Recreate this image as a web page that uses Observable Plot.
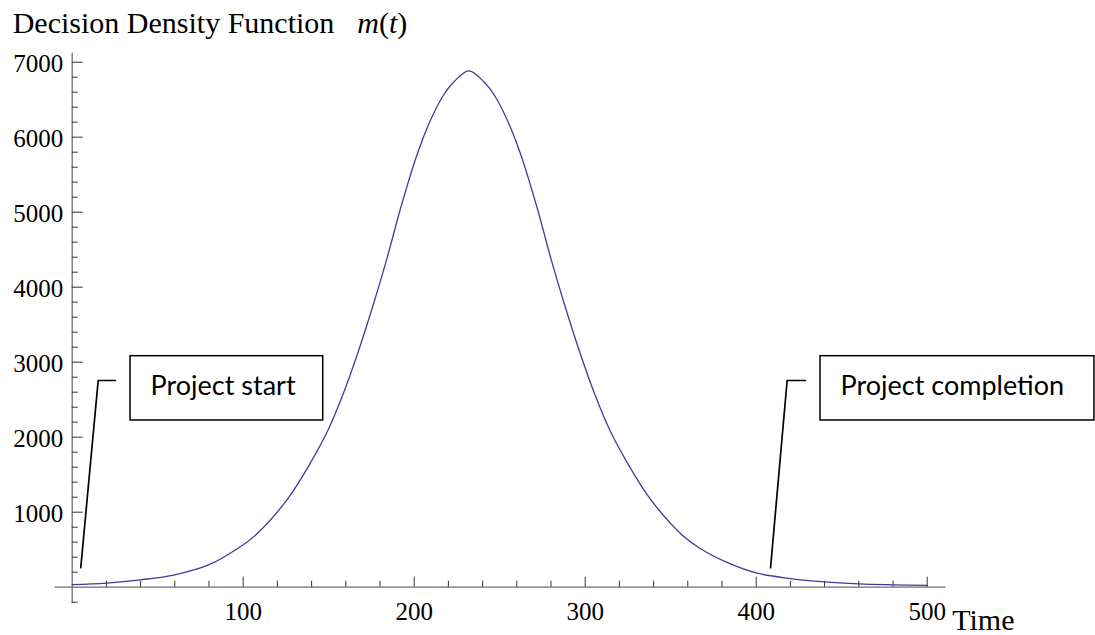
<!DOCTYPE html>
<html><head><meta charset="utf-8">
<script src="https://cdn.jsdelivr.net/npm/d3@7"></script>
<script src="https://cdn.jsdelivr.net/npm/@observablehq/plot@0.6"></script>
<style>
body{margin:0;background:#fff;}
#title{height:40px;font-family:"Liberation Serif",serif;font-size:30px;line-height:46px;padding-left:12.7px;white-space:nowrap;color:#000;}
#chart svg{overflow:visible;display:block;}
</style></head><body>
<div id="title">Decision Density Function<span style="margin-left:23px"><i>m</i>(<i>t</i>)</span></div>
<div id="chart"></div>
<script>
// curve readings (time, m(t))
const time    = [0, 20, 40, 60, 80, 97, 107.5, 126, 139, 149.5, 158.5, 167.5, 176.5, 184, 192.5, 201.5, 209, 217, 223, 232, 241, 247, 255, 262.5, 271.5, 280, 287.5, 296.5, 305.5, 314.5, 325, 338, 356.5, 367, 384, 400, 420, 440, 460, 480, 500];
const density = [35, 55, 98, 165, 300, 520, 700, 1178, 1645, 2089, 2578, 3156, 3800, 4378, 5089, 5756, 6200, 6556, 6733, 6885, 6733, 6556, 6200, 5756, 5089, 4378, 3800, 3156, 2578, 2089, 1645, 1178, 700, 520, 320, 190, 115, 70, 45, 32, 23];

const xMajorTicks = [100, 200, 300, 400, 500];
const xMinorTicks = [20, 40, 60, 80, 120, 140, 160, 180, 220, 240, 260, 280, 320, 340, 360, 380, 420, 440, 460, 480];
const yMajorTicks = [1000, 2000, 3000, 4000, 5000, 6000, 7000];
const yMinorTicks = [-200, 200, 400, 600, 800, 1200, 1400, 1600, 1800, 2200, 2400, 2600, 2800, 3200, 3400, 3600, 3800, 4200, 4400, 4600, 4800, 5200, 5400, 5600, 5800, 6200, 6400, 6600, 6800];

// annotations (data coordinates)
const noteLabels = ["Project start", "Project completion"];
const noteTextX  = [45.8, 449.3];
const noteTextY  = [2680, 2680];
const boxX1 = [34.1, 437.6];
const boxX2 = [146.8, 597.8];
const boxY1 = [2223, 2223];
const boxY2 = [3080, 3080];
const leaderStartX = [5.0, 15.2, 25.3];
const leaderEndX   = [408.4, 418.1, 428.8];
const leaderY      = [259, 2756, 2756];

const xAxisLabel = "Time";

const curveData = time.map((t, i) => ({t, m: density[i]}));
const boxes = noteLabels.map((label, i) => ({label, x1: boxX1[i], x2: boxX2[i], y1: boxY1[i], y2: boxY2[i], tx: noteTextX[i], ty: noteTextY[i]}));
const leaders = [
  ...leaderStartX.map((x, i) => ({g: 0, x, y: leaderY[i]})),
  ...leaderEndX.map((x, i) => ({g: 1, x, y: leaderY[i]}))
];

const axisColor = "#6e6e6e";
const tickColor = "#333";

const plot = Plot.plot({
  width: 1095,
  height: 595,
  marginTop: 12.7,
  marginLeft: 71.7,
  marginRight: 149.5,
  marginBottom: 48.3,
  x: {domain: [0, 511], axis: null},
  y: {domain: [0, 7120], axis: null},
  style: {fontFamily: "'Liberation Serif', serif", fontSize: "25px", color: "#000", background: "#fff", overflow: "visible"},
  marks: [
    Plot.ruleY([0], {x1: -10, x2: 511, stroke: axisColor, strokeWidth: 1.3}),
    Plot.ruleX([0], {y1: -217, y2: 7120, stroke: axisColor, strokeWidth: 1.3}),
    Plot.axisX(xMinorTicks, {anchor: "bottom", tickSize: -6, tickFormat: () => "", stroke: tickColor, label: null}),
    Plot.axisX(xMajorTicks, {anchor: "bottom", tickSize: -10, tickFormat: () => "", stroke: tickColor, label: null}),
    Plot.axisX(xMajorTicks, {anchor: "bottom", tickSize: 0, tickPadding: 15.5, tickFormat: "d", fontSize: 25, fill: "#000", label: null}),
    Plot.axisY(yMinorTicks, {anchor: "left", tickSize: -6, tickFormat: () => "", stroke: tickColor, label: null}),
    Plot.axisY(yMajorTicks, {anchor: "left", tickSize: -11, tickFormat: () => "", stroke: tickColor, label: null}),
    Plot.axisY(yMajorTicks, {anchor: "left", tickSize: 0, tickPadding: 9, tickFormat: "d", fontSize: 25, fill: "#000", dy: 2, label: null}),
    Plot.line(curveData, {x: "t", y: "m", stroke: "#3d3d99", strokeWidth: 1.3, curve: "catmull-rom"}),
    Plot.line(leaders, {x: "x", y: "y", z: "g", stroke: "#000", strokeWidth: 1.7}),
    Plot.rect(boxes, {x1: "x1", x2: "x2", y1: "y1", y2: "y2", fill: "#fff", stroke: "#000", strokeWidth: 1.5}),
    Plot.text(boxes, {x: "tx", y: "ty", text: "label", textAnchor: "start", fontFamily: "Lato", fontSize: 27, fill: "#000"}),
    Plot.text([xAxisLabel], {frameAnchor: "bottom-right", textAnchor: "start", dx: 6.2, dy: 43, fontSize: 30, fill: "#000"})
  ]
});
document.getElementById("chart").appendChild(plot);
</script>
</body></html>
